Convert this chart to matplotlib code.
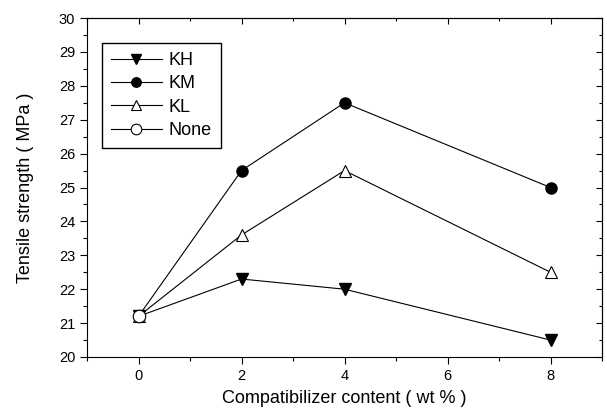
import numpy as np
import matplotlib.pyplot as plt
from matplotlib.ticker import MultipleLocator

# Daten
x = [0, 2, 4, 8]
kh = [21.2, 22.3, 22.0, 20.5]
km = [21.2, 25.5, 27.5, 25.0]
kl = [21.2, 23.6, 25.5, 22.5]
x_none = [0]
none = [21.2]

plt.rcParams['font.family'] = 'Liberation Sans'

fig = plt.figure(figsize=(6.07, 4.12), dpi=100)
ax = fig.add_axes([87/607, 1 - 357/412, (602-87)/607, (357-18)/412])

ax.plot(x, kh, '-', color='k', lw=0.8, marker='v', ms=9, mfc='k', mec='k', label='KH')
ax.plot(x, km, '-', color='k', lw=0.8, marker='o', ms=8, mfc='k', mec='k', label='KM')
ax.plot(x, kl, '-', color='k', lw=0.8, marker='^', ms=9, mfc='white', mec='k', mew=0.8, label='KL', zorder=3)
ax.plot(x_none, none, '-', color='k', lw=0.8, marker='o', ms=9, mfc='white', mec='k', mew=0.8, label='None', zorder=4)

ax.set_xlim(-1, 9)
ax.set_ylim(20, 30)
ax.xaxis.set_major_locator(MultipleLocator(2))
ax.xaxis.set_minor_locator(MultipleLocator(1))
ax.yaxis.set_major_locator(MultipleLocator(1))
ax.yaxis.set_minor_locator(MultipleLocator(0.5))
ax.tick_params(which='both', direction='out', top=False, right=False, labelsize=10.5, width=0.8)
ax.tick_params(which='major', length=5)
ax.tick_params(which='minor', length=3)
ax.set_xticks([0, 2, 4, 6, 8])

# Ticks oben/rechts nach innen
ax2 = ax.secondary_xaxis('top')
ax2.set_xticks([0, 2, 4, 6, 8])
ax2.xaxis.set_minor_locator(MultipleLocator(1))
ax2.tick_params(which='both', direction='in', labeltop=False, width=0.8)
ax2.tick_params(which='major', length=4)
ax2.tick_params(which='minor', length=2)
ax3 = ax.secondary_yaxis('right')
ax3.yaxis.set_major_locator(MultipleLocator(1))
ax3.yaxis.set_minor_locator(MultipleLocator(0.5))
ax3.tick_params(which='both', direction='in', labelright=False, width=0.8)
ax3.tick_params(which='major', length=4)
ax3.tick_params(which='minor', length=2)

for s in ax.spines.values():
    s.set_linewidth(0.8)

ax.set_xlabel('Compatibilizer content ( wt % )', fontsize=13, labelpad=5)
ax.set_ylabel('Tensile strength ( MPa )', fontsize=13, labelpad=18)

ax.legend(loc='upper left', bbox_to_anchor=(0.029, 0.926), borderaxespad=0, fancybox=False,
          edgecolor='k', framealpha=1, fontsize=13, handlelength=2.8, handletextpad=0.4,
          labelspacing=0.35, borderpad=0.5, markerscale=0.85)

fig.savefig('out.png', dpi=100)
